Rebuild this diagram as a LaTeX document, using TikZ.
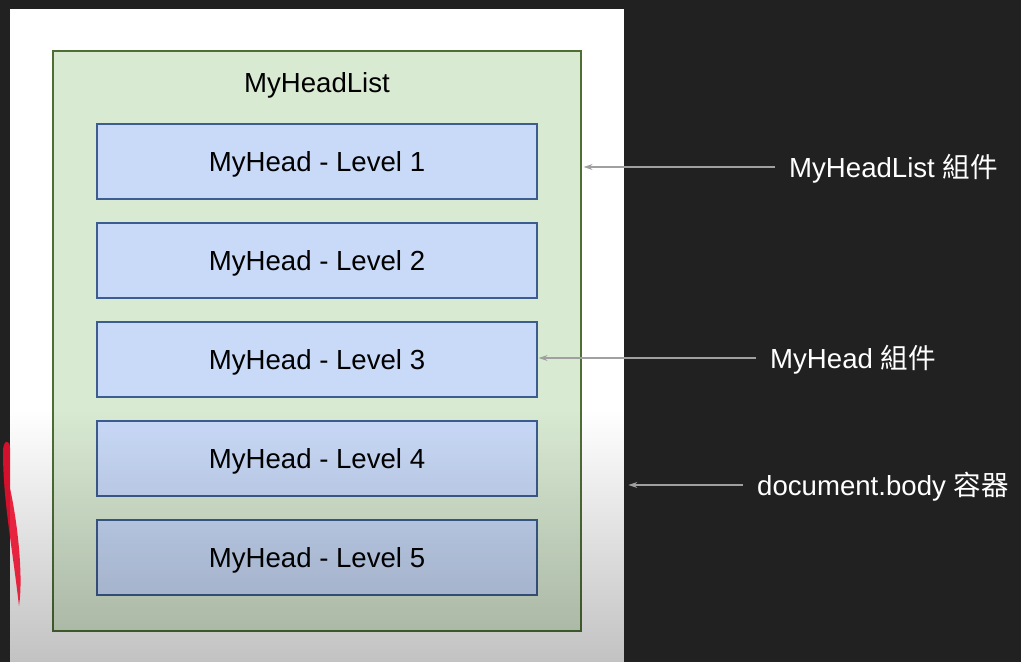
\documentclass[tikz,border=0pt]{standalone}
\usepackage{fontspec}
\setmainfont{Liberation Sans}
\newfontfamily\cjk{Noto Sans CJK TC}
\usetikzlibrary{arrows.meta, positioning, fadings}
\definecolor{bgdark}{HTML}{212121}
\definecolor{listgreen}{HTML}{D9EAD3}
\definecolor{listborder}{HTML}{4E6E36}
\definecolor{headblue}{HTML}{C9DAF8}
\definecolor{headborder}{HTML}{3D5C8F}
\definecolor{pointgrey}{HTML}{A0A0A0}
\definecolor{markred}{HTML}{E8102E}

\begin{document}
\begin{tikzpicture}[x=1pt, y=-1pt,
    levelbox/.style={draw=headborder, fill=headblue, line width=1.2pt, minimum width=440pt, minimum height=75pt,
        inner sep=0pt, text height=20pt, text depth=0pt, font=\fontsize{27.6}{33}\selectfont},
    pointer/.style={-{Stealth[length=9pt, width=6pt]}, pointgrey, line width=1.3pt},
    note/.style={anchor=west, text=white, inner sep=0pt, text height=20pt, text depth=0pt, font=\fontsize{27.6}{33}\selectfont}
]

% Dark screen and the white page
\fill[bgdark] (0,0) rectangle (1021,662);
\useasboundingbox (0,0) rectangle (1021,662);
\node[fill=white, minimum width=614pt, minimum height=653pt, inner sep=0pt, anchor=north west] (panel) at (10,9) {};

% MyHeadList container
\node[draw=listborder, fill=listgreen, line width=1.2pt, minimum width=528pt, minimum height=580pt, inner sep=0pt] (headlist) at (317,341) {};
\node[inner sep=0pt, text height=20pt, text depth=0pt, font=\fontsize{27.6}{33}\selectfont] (listtitle) at (317,82) {MyHeadList};

% MyHead levels - stacked inside the list
\foreach \n in {1,...,5} {
    \node[levelbox] (level\n) at (317, 62.5+99*\n) {MyHead - Level \n};
}

% Shadow at the bottom of the page
\fill[black, opacity=0.24, path fading=north] (10,410) rectangle (624,662);

% Red pen mark at the left edge
\fill[markred, opacity=0.9] (3,452) .. controls (3,500) and (12,545) .. (19,606)
    .. controls (23,580) and (19,530) .. (10,488) -- (10,448)
    .. controls (10,439) and (3,439) .. (3,452);

% Labels on the right - positioned at the arrow heights
\node[note] (listnote) at (789,167) {MyHeadList {\cjk 組件}};
\node[note] (headnote) at (770,358) {MyHead {\cjk 組件}};
\node[note] (bodynote) at (757,485) {document.body {\cjk 容器}};

% Pointers from labels to the parts
\draw[pointer] ([xshift=-14pt]listnote.west) -- ([xshift=2pt]listnote.west -| headlist.east);
\draw[pointer] ([xshift=-14pt]headnote.west) -- ([xshift=1pt]headnote.west -| level3.east);
\draw[pointer] ([xshift=-14pt]bodynote.west) -- ([xshift=4pt]bodynote.west -| panel.east);

\end{tikzpicture}
\end{document}
